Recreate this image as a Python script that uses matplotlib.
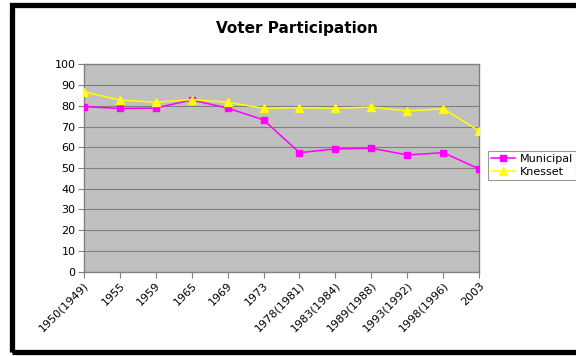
import matplotlib
matplotlib.use("Agg")
import matplotlib.pyplot as plt
from matplotlib.patches import Rectangle

categories = ["1950(1949)", "1955", "1959", "1965", "1969", "1973",
              "1978(1981)", "1983(1984)", "1989(1988)", "1993(1992)",
              "1998(1996)", "2003"]
municipal = [79.6, 78.7, 78.9, 82.8, 78.9, 73.2, 57.4, 59.2, 59.5, 56.3, 57.4, 49.5]
knesset = [86.8, 82.8, 81.7, 83.0, 81.7, 78.8, 79.1, 78.8, 79.4, 77.5, 78.6, 67.8]
y_ticks = [0, 10, 20, 30, 40, 50, 60, 70, 80, 90, 100]

fig = plt.figure(figsize=(5.76, 3.56), dpi=100)
fig.patch.set_facecolor("white")

ax = fig.add_axes([83.7/576, 1-271.7/356, (479.3-83.7)/576, (271.7-64.3)/356])
ax.set_facecolor("#C0C0C0")
x = list(range(len(categories)))
ax.plot(x, municipal, color="#FF00FF", marker="s", markersize=4.6, linewidth=1.1,
        label="Municipal", zorder=3)
ax.plot(x, knesset, color="#FFFF00", marker="^", markersize=5.5, linewidth=1.1,
        label="Knesset", zorder=4)

ax.set_xlim(0, len(categories) - 1)
ax.set_ylim(0, 100)
ax.set_yticks(y_ticks)
ax.set_xticks(x)
ax.set_xticklabels(categories, rotation=45, ha="right", rotation_mode="anchor")
ax.tick_params(axis="both", labelsize=8, color="#808080", length=4, width=0.8,
               direction="out", pad=2)
ax.yaxis.grid(True, color="#808080", linewidth=0.8)
ax.set_axisbelow(True)
for s in ax.spines.values():
    s.set_color("#808080")
    s.set_linewidth(1.0)

fig.text(297/576, 1-28/356, "Voter Participation", ha="center", va="center",
         fontsize=11, fontweight="bold")

leg = fig.legend(loc="upper left", bbox_to_anchor=(487.5/576, 1-151/356),
                 fontsize=8, frameon=True, fancybox=False, edgecolor="#808080",
                 handlelength=2.2, borderpad=0.3, labelspacing=0.2,
                 handletextpad=0.4, borderaxespad=0)
leg.get_frame().set_linewidth(0.8)

fig.patches.append(Rectangle((11.5/576, 1-352/356), 1.0, (352-4.5)/356,
                             transform=fig.transFigure, fill=False,
                             edgecolor="black", linewidth=3.8, zorder=10))

fig.savefig("out.png", dpi=100)
